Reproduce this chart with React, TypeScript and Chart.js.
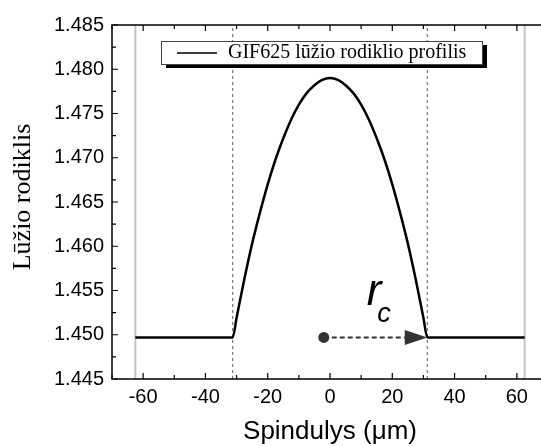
import React, { useEffect, useRef } from "react";
import { Chart, registerables } from "chart.js";

Chart.register(...registerables);

// ---- data ----
const radiusX: number[] = [
  -62.5, -31.25, -30, -27.5, -25, -22.5, -20, -17.5, -15, -12.5, -10, -7.5, -5, -2.5, 0,
  2.5, 5, 7.5, 10, 12.5, 15, 17.5, 20, 22.5, 25, 27.5, 30, 31.25, 62.5,
];
const indexY: number[] = [
  1.4497, 1.4497, 1.4519, 1.4563, 1.4603, 1.4638, 1.467, 1.4698, 1.4722, 1.4743, 1.476, 1.4773, 1.4782, 1.4788, 1.479,
  1.4788, 1.4782, 1.4773, 1.476, 1.4743, 1.4722, 1.4698, 1.467, 1.4638, 1.4603, 1.4563, 1.4519, 1.4497, 1.4497,
];
const claddingEdges: number[] = [-62.5, 62.5];
const coreEdges: number[] = [-31.25, 31.25];
const arrowStartX = -2;
const arrowBaseX = 24;
const arrowTipX = 31.25;
const arrowY = 1.4497;

const xTicks: number[] = [-60, -40, -20, 0, 20, 40, 60];
const xMinorTicks: number[] = [-70, -50, -30, -10, 10, 30, 50, 70];
const yTicks: number[] = [1.445, 1.45, 1.455, 1.46, 1.465, 1.47, 1.475, 1.48, 1.485];
const yMinorTicks: number[] = [1.4475, 1.4525, 1.4575, 1.4625, 1.4675, 1.4725, 1.4775, 1.4825];

const X_MIN = -70, X_MAX = 70, Y_MIN = 1.445, Y_MAX = 1.485;

const legendLabel = "GIF625 lūžio rodiklio profilis";
const xTitle = "Spindulys (\u03bcm)";
const yTitle = "Lūžio rodiklis";

const W = 560, H = 446;

export default function App() {
  const ref = useRef<HTMLCanvasElement | null>(null);

  useEffect(() => {
    const canvas = ref.current;
    if (!canvas) return;

    const decor = {
      id: "decor",
      beforeDraw(chart: any) {
        const c = chart.ctx;
        c.save();
        c.fillStyle = "#fff";
        c.fillRect(0, 0, chart.width, chart.height);
        c.restore();
      },
      afterDraw(chart: any) {
        const c: CanvasRenderingContext2D = chart.ctx;
        const xs = chart.scales.x, ys = chart.scales.y;
        const a = chart.chartArea;
        c.save();
        // arrow head
        const tx = xs.getPixelForValue(arrowTipX), bx = xs.getPixelForValue(arrowBaseX);
        const ay = ys.getPixelForValue(arrowY);
        c.fillStyle = "#333";
        c.beginPath();
        c.moveTo(tx, ay);
        c.lineTo(bx, ay - 7.5);
        c.lineTo(bx, ay + 7.5);
        c.closePath();
        c.fill();

        // r_c annotation
        c.fillStyle = "#000";
        c.textAlign = "left";
        c.textBaseline = "alphabetic";
        c.font = "italic 44px 'Liberation Sans', Arial, sans-serif";
        c.fillText("r", xs.getPixelForValue(11.8), ys.getPixelForValue(1.4534));
        c.font = "italic 27px 'Liberation Sans', Arial, sans-serif";
        c.fillText("c", xs.getPixelForValue(15.2), ys.getPixelForValue(1.4514));

        // axes frame
        c.strokeStyle = "#000";
        c.lineWidth = 1.5;
        c.strokeRect(a.left, a.top, a.right - a.left, a.bottom - a.top);
        c.lineWidth = 1.2;
        c.beginPath();
        for (const v of xTicks) {
          const p = xs.getPixelForValue(v);
          c.moveTo(p, a.bottom); c.lineTo(p, a.bottom - 6);
          c.moveTo(p, a.top); c.lineTo(p, a.top + 6);
        }
        for (const v of xMinorTicks) {
          const p = xs.getPixelForValue(v);
          c.moveTo(p, a.bottom); c.lineTo(p, a.bottom - 4);
          c.moveTo(p, a.top); c.lineTo(p, a.top + 4);
        }
        for (const v of yTicks) {
          const p = ys.getPixelForValue(v);
          c.moveTo(a.left, p); c.lineTo(a.left + 6, p);
          c.moveTo(a.right, p); c.lineTo(a.right - 6, p);
        }
        for (const v of yMinorTicks) {
          const p = ys.getPixelForValue(v);
          c.moveTo(a.left, p); c.lineTo(a.left + 4, p);
          c.moveTo(a.right, p); c.lineTo(a.right - 4, p);
        }
        c.stroke();

        // tick labels
        c.fillStyle = "#000";
        c.font = "20px 'Liberation Sans', Arial, sans-serif";
        c.textAlign = "right";
        c.textBaseline = "middle";
        for (const v of yTicks) {
          c.fillText(v.toFixed(3), a.left - 8, ys.getPixelForValue(v));
        }
        c.textAlign = "center";
        c.textBaseline = "top";
        for (const v of xTicks) {
          c.fillText(String(v), xs.getPixelForValue(v), a.bottom + 8);
        }

        // axis titles
        c.font = "26px 'Liberation Sans', Arial, sans-serif";
        c.textBaseline = "middle";
        c.fillText(xTitle, xs.getPixelForValue(0), 432);
        c.save();
        c.translate(23, 197);
        c.rotate(-Math.PI / 2);
        c.font = "26px 'Liberation Serif', 'Times New Roman', serif";
        c.fillText(yTitle, 0, 0);
        c.restore();

        // legend with shadow
        const lx = 161, ly = 41, lw = 321, lh = 23;
        c.fillStyle = "#000";
        c.fillRect(lx + 5, ly + 4, lw, lh);
        c.fillStyle = "#fff";
        c.fillRect(lx, ly, lw, lh);
        c.strokeStyle = "#444";
        c.lineWidth = 1;
        c.strokeRect(lx + 0.5, ly + 0.5, lw, lh);
        c.strokeStyle = "#000";
        c.lineWidth = 1.3;
        c.beginPath();
        c.moveTo(177, ly + 12);
        c.lineTo(217, ly + 12);
        c.stroke();
        c.fillStyle = "#000";
        c.font = "20px 'Liberation Serif', 'Times New Roman', serif";
        c.textAlign = "left";
        c.textBaseline = "middle";
        c.fillText(legendLabel, 228, ly + 12);
        c.restore();
      },
    };

    const vline = (x: number, color: string, width: number, dash: number[], order: number) => ({
      data: [{ x, y: Y_MIN }, { x, y: Y_MAX }],
      borderColor: color,
      borderWidth: width,
      borderDash: dash,
      pointRadius: 0,
      order,
    });

    const chart = new Chart(canvas, {
      type: "line",
      data: {
        datasets: [
          {
            data: radiusX.map((x, i) => ({ x, y: indexY[i] })),
            borderColor: "#000",
            borderWidth: 2.5,
            pointRadius: 0,
            cubicInterpolationMode: "monotone",
            order: 0,
          } as any,
          ...claddingEdges.map((x) => vline(x, "#c4c4c4", 2, [], 3)),
          ...coreEdges.map((x) => vline(x, "#777", 1.2, [3, 3], 2)),
          {
            data: [{ x: arrowStartX, y: arrowY }, { x: arrowBaseX, y: arrowY }],
            borderColor: "#333",
            borderWidth: 2,
            borderDash: [5, 3],
            pointRadius: [4.5, 0],
            pointBackgroundColor: "#333",
            pointBorderColor: "#333",
            order: 1,
          } as any,
        ],
      },
      options: {
        animation: false,
        responsive: false,
        maintainAspectRatio: false,
        devicePixelRatio: 1,
        layout: { padding: { left: 112, right: W - 548, top: 25, bottom: H - 379 } },
        plugins: { legend: { display: false }, tooltip: { enabled: false } },
        scales: {
          x: { type: "linear", min: X_MIN, max: X_MAX, display: false },
          y: { type: "linear", min: Y_MIN, max: Y_MAX, display: false },
        },
      },
      plugins: [decor],
    });
    return () => chart.destroy();
  }, []);

  return (
    <div style={{ position: "fixed", left: 0, top: 0, width: 541, height: 446, overflow: "hidden", background: "#fff" }}>
      <canvas ref={ref} width={W} height={H} style={{ width: W, height: H, display: "block" }} />
    </div>
  );
}
